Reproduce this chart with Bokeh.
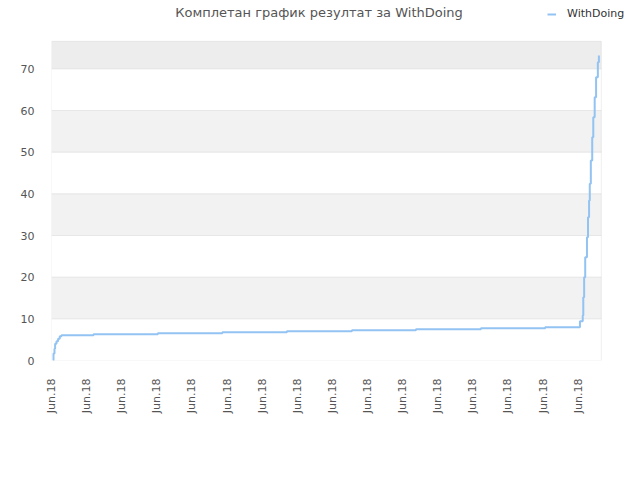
import math
from bokeh.plotting import figure
from bokeh.models import (FixedTicker, BoxAnnotation, Legend, LegendItem,
                          Range1d, Label)
from bokeh.embed import file_html
from bokeh.resources import INLINE

title_text = "Комплетан график резултат за WithDoing"
series_name = "WithDoing"

x_ticks = list(range(16))
x_tick_labels = ["Jun.18"] * 16
y_ticks = [0, 10, 20, 30, 40, 50, 60, 70]

# time position (tick units) and cumulative result
xs = [0.046, 0.057, 0.085, 0.103, 0.142, 0.188, 0.236, 0.285,
      1.197, 3.028, 4.866, 6.704, 8.556, 10.38, 12.23, 14.06,
      14.97, 15.05, 15.13, 15.145, 15.17, 15.20, 15.25, 15.28,
      15.31, 15.33, 15.36, 15.40, 15.43, 15.47, 15.51, 15.56, 15.59]
ys = [0.0, 1.7, 2.8, 4.0, 4.6, 5.2, 5.8, 6.05,
      6.3, 6.55, 6.8, 7.04, 7.28, 7.5, 7.75, 8.0,
      8.0, 9.4, 10.8, 15.2, 20.0, 24.8, 29.6, 34.4,
      38.4, 42.4, 48.0, 53.6, 58.4, 63.2, 68.0, 71.6, 73.2]

x_max = 15.66
y_max = 76.6
x_view = 16.49  # extra room on the right inside the frame for the legend
y_view = 86.4   # extra headroom inside the frame for title and legend

p = figure(width=640, height=480, output_backend="svg", toolbar_location=None,
           x_range=Range1d(0, x_view), y_range=Range1d(0, y_view),
           min_border_left=51, min_border_right=10, min_border_top=0,
           min_border_bottom=120, background_fill_color="white",
           border_fill_color="white")
p.outline_line_color = None
p.xgrid.grid_line_color = None
p.ygrid.grid_line_color = None

# alternating bands
bands = [(10, 20, "#F2F2F2"), (30, 40, "#F2F2F2"), (50, 60, "#F2F2F2"),
         (70, y_max, "#EDEDED")]
for b, t, c in bands:
    p.add_layout(BoxAnnotation(bottom=b, top=t, left=0, right=x_max,
                               fill_color=c, fill_alpha=1,
                               line_color=None, level="image"))

# horizontal grid lines
for v in y_ticks[1:]:
    p.add_layout(BoxAnnotation(bottom=v, top=v, left=0, right=x_max,
                               fill_alpha=0, line_color="#D6D6D6",
                               line_width=1, level="underlay"))

# plot-area border
p.add_layout(BoxAnnotation(bottom=0, top=y_max, left=0, right=x_max,
                           fill_alpha=0, line_color="#CCCCCC", line_width=1,
                           level="underlay"))

p.yaxis.ticker = FixedTicker(ticks=y_ticks)
p.yaxis.axis_line_color = None
p.yaxis.major_tick_line_color = None
p.yaxis.minor_tick_line_color = None
p.yaxis.major_label_text_font = "DejaVu Sans"
p.yaxis.major_label_text_font_size = "11px"
p.yaxis.major_label_text_color = "#555555"
p.yaxis.major_label_standoff = 11

p.xaxis.ticker = FixedTicker(ticks=x_ticks)
p.xaxis.major_label_overrides = {t: l for t, l in zip(x_ticks, x_tick_labels)}
p.xaxis.axis_line_color = None
p.xaxis.major_tick_line_color = None
p.xaxis.minor_tick_line_color = None
p.xaxis.major_label_orientation = math.pi / 2
p.xaxis.major_label_text_font = "DejaVu Sans"
p.xaxis.major_label_text_font_size = "11px"
p.xaxis.major_label_text_color = "#555555"
p.xaxis.major_label_standoff = 12

r = p.step(xs, ys, mode="after", line_color="#92C3F2", line_width=2)

frame_h = 360
p.add_layout(Label(x=267.5, y=frame_h - 12, x_units="screen", y_units="screen",
                   text=title_text, text_align="center", text_baseline="middle",
                   text_font="DejaVu Sans", text_font_size="13px",
                   text_color="#555555"))

legend = Legend(items=[LegendItem(label=series_name, renderers=[r])],
                location=(496, frame_h - 20), padding=0, margin=0,
                border_line_color=None, background_fill_alpha=0,
                glyph_width=9, glyph_height=12, label_height=12,
                label_standoff=11, label_text_font="DejaVu Sans",
                label_text_font_size="11px", label_text_color="#333333")
p.add_layout(legend)

open("out.html", "w").write(file_html(p, INLINE))
